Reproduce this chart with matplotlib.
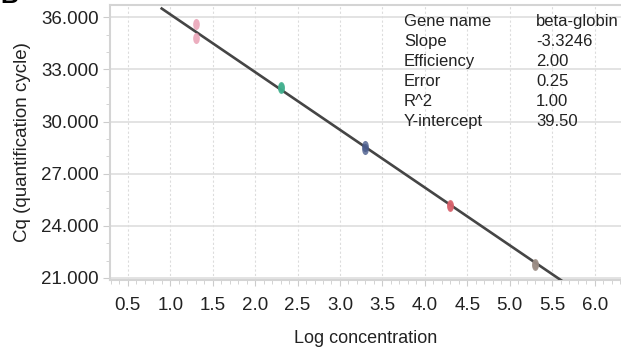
import numpy as np
import matplotlib.pyplot as plt
from matplotlib.path import Path
from matplotlib.transforms import Affine2D
from matplotlib.ticker import MultipleLocator, FormatStrFormatter

plt.rcParams['font.family'] = ['Liberation Sans', 'DejaVu Sans']

# standard curve samples (two replicates per dilution)
log_conc = [1.3, 2.3, 3.3, 4.3, 5.3]
cq_rep1 = [35.6, 32.0, 28.6, 25.2, 21.8]
cq_rep2 = [34.8, 31.95, 28.45, 25.15, 21.75]
point_colors = ['#e89ab0', '#3fae8c', '#4a5c8c', '#d8606a', '#9a8c84']

slope = -3.3246
intercept = 39.50
fit_range = [0.9, 5.62]

stat_names = ['Gene name', 'Slope', 'Efficiency', 'Error', 'R^2', 'Y-intercept']
stat_values = ['beta-globin', '-3.3246', '2.00', '0.25', '1.00', '39.50']

fig = plt.figure(figsize=(6.21, 3.47), dpi=100)
ax = fig.add_axes([0.177, 0.193, 0.823, 0.793])

# fitted line
xf = np.array(fit_range)
ax.plot(xf, slope * xf + intercept, color='#454545', lw=1.9, zorder=3)

# narrow vertical ellipse as marker
ellipse = Path.unit_circle().transformed(Affine2D().scale(0.6, 1.0))
for x, y1, y2, c in zip(log_conc, cq_rep1, cq_rep2, point_colors):
    ax.plot([x, x], [y1, y2], ls='none', marker=ellipse, ms=8,
            color=c, alpha=0.8, mec='none', zorder=4)

ax.set_xlim(0.29, 6.31)
ax.set_ylim(20.88, 36.72)
ax.xaxis.set_major_locator(MultipleLocator(0.5))
ax.xaxis.set_minor_locator(MultipleLocator(0.1))
ax.xaxis.set_major_formatter(FormatStrFormatter('%.1f'))
ax.yaxis.set_major_locator(MultipleLocator(3))
ax.yaxis.set_minor_locator(MultipleLocator(1))
ax.yaxis.set_major_formatter(FormatStrFormatter('%.3f'))

ax.grid(axis='x', which='major', color='#dcdcdc', ls=(0, (2, 2)), lw=0.8)
ax.grid(axis='y', which='major', color='#dedede', ls='-', lw=1.2)

ax.spines['right'].set_visible(False)
for side in ['left', 'bottom', 'top']:
    ax.spines[side].set_color('#d4d4d4')
    ax.spines[side].set_linewidth(1.5)

ax.tick_params(axis='both', which='both', colors='#cccccc', labelcolor='#222222',
               labelsize=13.5)
ax.tick_params(axis='y', which='major', length=5, pad=3)
ax.tick_params(axis='y', which='minor', length=3)
ax.tick_params(axis='x', which='major', length=4, pad=8)
ax.tick_params(axis='x', which='minor', length=3)

ax.set_xlabel('Log concentration', fontsize=13, color='#222222', labelpad=12)
ax.set_ylabel('Cq (quantification cycle)', fontsize=13.5, color='#222222', labelpad=7)

# fit statistics table
for i, (name, val) in enumerate(zip(stat_names, stat_values)):
    yy = 0.938 - i * 0.0727
    ax.text(0.575, yy, name, transform=ax.transAxes, fontsize=12,
            color='#222222', va='center')
    ax.text(0.834, yy, val, transform=ax.transAxes, fontsize=12,
            color='#222222', va='center')

# panel letter
fig.text(0.0, 1.012, 'B', fontsize=18, fontweight='bold', va='center', ha='left')

fig.savefig('out.png', dpi=100)
